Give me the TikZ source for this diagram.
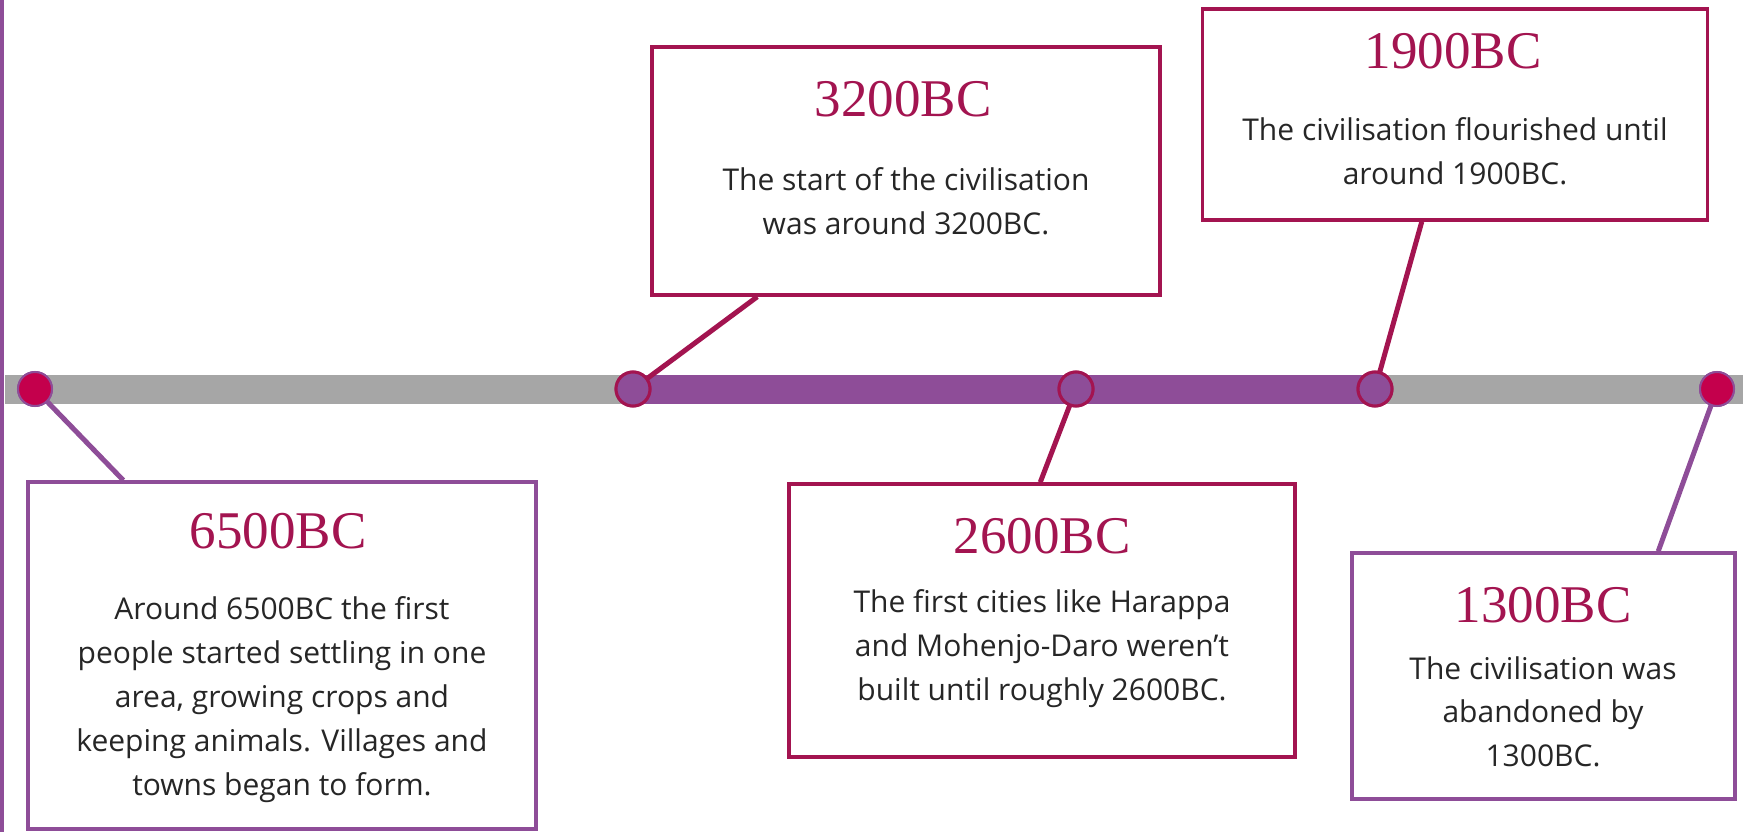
\documentclass[tikz,border=0pt]{standalone}
\usepackage{fontspec}
\setmainfont{Open Sans}
\newfontfamily\titlefont{Liberation Serif}
\definecolor{crim}{HTML}{A31450}
\definecolor{crimdot}{HTML}{C4004C}
\definecolor{purp}{HTML}{8E4D98}
\definecolor{barg}{HTML}{A6A6A6}
\definecolor{txt}{HTML}{262626}
\tikzset{
  boxc/.style={draw=crim, line width=3.5pt, fill=white, inner sep=0pt},
  boxp/.style={draw=purp, line width=3.5pt, fill=white, inner sep=0pt},
  ttl/.style={font=\titlefont\fontsize{53}{53}\selectfont, text=crim, inner sep=0pt},
  body/.style={font=\fontsize{30}{44}\selectfont, text=txt, align=center, inner sep=0pt},
  dotend/.style={circle, fill=crimdot, draw=purp, line width=2pt, minimum size=34pt, inner sep=0pt},
  dotmid/.style={circle, fill=purp, draw=crim, line width=3pt, minimum size=34pt, inner sep=0pt},
  linkc/.style={draw=crim, line width=5pt},
  linkp/.style={draw=purp, line width=5pt}
}
\begin{document}
\begin{tikzpicture}[x=1pt,y=-1pt]
\useasboundingbox (0,0) rectangle (1743,832);
\fill[white] (0,0) rectangle (1743,832);
\fill[purp] (0,0) rectangle (4,832);
% timeline
\fill[barg] (5,375) rectangle (1743,404);
\fill[purp] (633,375) rectangle (1375,404);
% dots
\node[dotend] (d1) at (35,389) {};
\node[dotmid] (d2) at (633,389) {};
\node[dotmid] (d3) at (1076,389) {};
\node[dotmid] (d4) at (1375,389) {};
\node[dotend] (d5) at (1717,389) {};
% boxes
\node[boxp, minimum width=508pt, minimum height=347pt] (b1) at (282,655.5) {};
\node[boxc, minimum width=508pt, minimum height=248pt] (b2) at (906,171) {};
\node[boxc, minimum width=506pt, minimum height=273pt] (b3) at (1042,620.5) {};
\node[boxc, minimum width=505pt, minimum height=211pt] (b4) at (1455,114.5) {};
\node[boxp, minimum width=383pt, minimum height=246pt] (b5) at (1543.5,676) {};
% connectors
\draw[linkp] (d1.center) -- ([xshift=97pt]b1.north west);
\draw[linkc] (d2.center) -- ([xshift=107pt]b2.south west);
\draw[linkc] (d3.center) -- ([xshift=253pt]b3.north west);
\draw[linkc] (d4.center) -- ([xshift=221pt]b4.south west);
\draw[linkp] (d5.center) -- ([xshift=308pt]b5.north west);
% redraw dots on top
\node[dotend] at (d1) {};
\node[dotmid] at (d2) {};
\node[dotmid] at (d3) {};
\node[dotmid] at (d4) {};
\node[dotend] at (d5) {};
% redraw boxes on top of connector ends
\node[boxp, minimum width=508pt, minimum height=347pt] at (b1) {};
\node[boxc, minimum width=508pt, minimum height=248pt] at (b2) {};
\node[boxc, minimum width=506pt, minimum height=273pt] at (b3) {};
\node[boxc, minimum width=505pt, minimum height=211pt] at (b4) {};
\node[boxp, minimum width=383pt, minimum height=246pt] at (b5) {};
% texts
\node[ttl] (t1) at (278,531) {6500BC};
\node[body, anchor=north] (x1) at (282,596) {Around 6500BC the first\\people started settling in one\\area, growing crops and\\keeping animals. Villages and\\towns began to form.};
\node[ttl] (t2) at (903,99) {3200BC};
\node[body, anchor=north] (x2) at (906,167) {The start of the civilisation\\was around 3200BC.};
\node[ttl] (t4) at (1453,51) {1900BC};
\node[body, anchor=north] (x4) at (1455,117) {The civilisation flourished until\\around 1900BC.};
\node[ttl] (t3) at (1042,536) {2600BC};
\node[body, anchor=north] (x3) at (1042,589) {The first cities like Harappa\\and Mohenjo-Daro weren’t\\built until roughly 2600BC.};
\node[ttl] (t5) at (1543,605) {1300BC};
\node[body, anchor=north] (x5) at (1543,656) {The civilisation was\\abandoned by\\1300BC.};
\end{tikzpicture}
\end{document}
